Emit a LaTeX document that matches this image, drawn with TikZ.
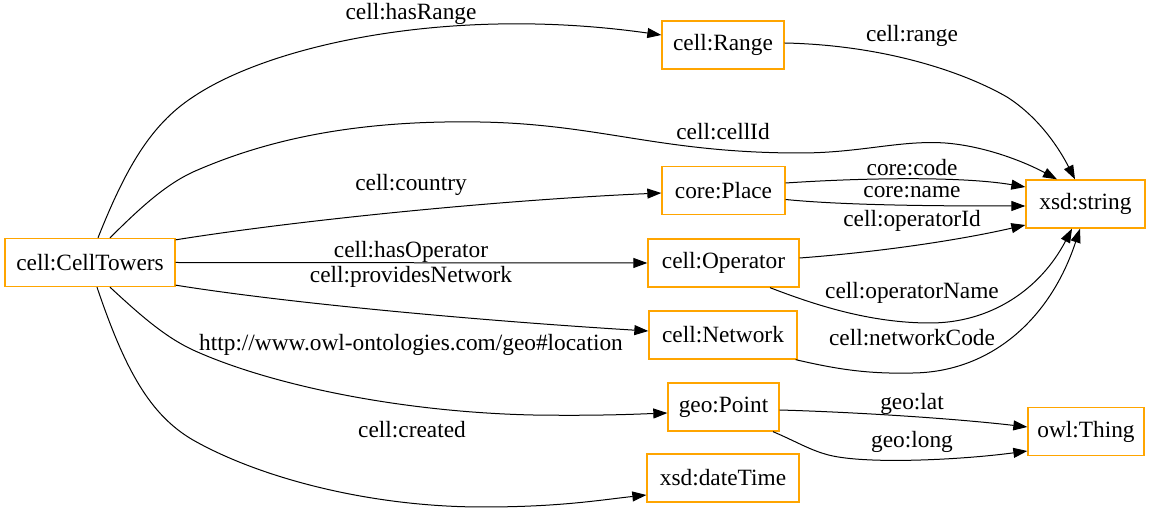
\documentclass[tikz,border=0pt]{standalone}
\usepackage{fontspec}
\setmainfont{Liberation Serif}
\usetikzlibrary{arrows.meta,calc}
\definecolor{classorange}{HTML}{FFA500}

\begin{document}
\begin{tikzpicture}[
  x=0.6pt, y=-0.6pt,
  font=\fontsize{14}{16}\selectfont,
  box/.style={draw=classorange, line width=0.8pt, inner xsep=2pt, inner ysep=0pt,
              minimum height=28.8pt},
  arr/.style={-{Triangle[length=8.4pt,width=6pt]}, line width=0.6pt},
  lbl/.style={inner sep=0pt}
]
\useasboundingbox (0,0) rectangle (1151,513);

% classes
\node[box, minimum width=102pt] (towers) at (90,262.5) {cell:CellTowers};
\node[box, minimum width=73.2pt] (range) at (723,45) {cell:Range};
\node[box, minimum width=73.8pt] (place) at (723.5,190.5) {core:Place};
\node[box, minimum width=90.6pt] (operator) at (723.5,263) {cell:Operator};
\node[box, minimum width=88.8pt] (network) at (723,335) {cell:Network};
\node[box, minimum width=66.6pt] (point) at (723.5,407) {geo:Point};
\node[box, minimum width=91.2pt] (datetime) at (723,478) {xsd:dateTime};
\node[box, minimum width=71.4pt] (string) at (1085.5,204) {xsd:string};
\node[box, minimum width=69.6pt] (thing) at (1086,431.5) {owl:Thing};

% properties of cell:CellTowers
\draw[arr] ($(towers.north)+(8,0)$) .. controls (125,170) and (150,125) .. (193,97)
  .. controls (270,45) and (450,5) .. ($(range.west)+(0,-10)$);
\draw[arr] ($(towers.north)+(20,0)$) .. controls (140,208) and (165,185) .. (193,172)
  .. controls (270,138) and (360,120) .. (480,122)
  .. controls (600,124) and (660,153) .. (800,153)
  .. controls (860,153) and (900,140) .. (945,143)
  .. controls (985,146) and (1025,162) .. ($(string.north)+(-28.5,0)$);
\draw[arr] ($(towers.north east)+(0,2)$) .. controls (300,220) and (500,200) .. ($(place.west)+(0,2.5)$);
\draw[arr] (towers.east) -- (operator.west);
\draw[arr] ($(towers.south east)+(0,-2)$) .. controls (300,305) and (500,322) .. ($(network.west)+(0,-4)$);
\draw[arr] ($(towers.south)+(20,0)$) .. controls (140,315) and (165,337) .. (193,350)
  .. controls (270,385) and (400,412) .. (533,415)
  .. controls (600,416) and (640,414) .. ($(point.west)+(0,6)$);
\draw[arr] ($(towers.south)+(7,0)$) .. controls (125,370) and (150,415) .. (193,440)
  .. controls (260,478) and (370,507) .. (483,507)
  .. controls (560,507) and (600,500) .. ($(datetime.west)+(0,17)$);

\node[lbl] (l-hasrange) at (411,14) {cell:hasRange};
\node[lbl] (l-cellid) at (723,132) {cell:cellId};
\node[lbl] (l-country) at (411,185) {cell:country};
\node[lbl] (l-hasop) at (411,252) {cell:hasOperator};
\node[lbl] (l-provides) at (411,277) {cell:providesNetwork};
\node[lbl] (l-location) at (411,345) {http://www.owl-ontologies.com/geo\#location};
\node[lbl] (l-created) at (412,430) {cell:created};

% data properties
\draw[arr] ($(range.east)+(0,-2)$) .. controls (880,45) and (960,70) .. (1007,97)
  .. controls (1040,118) and (1060,150) .. ($(string.north)+(-10.5,0)$);
\draw[arr] ($(place.east)+(0,-7.5)$) .. controls (860,178) and (960,176) .. ($(string.west)+(0,-17)$);
\draw[arr] ($(place.east)+(0,9)$) .. controls (850,206) and (960,206) .. ($(string.west)+(0,2)$);
\draw[arr] ($(operator.east)+(0,-5)$) .. controls (880,252) and (960,240) .. ($(string.west)+(0,21)$);
\draw[arr] ($(operator.south)+(46.5,0)$) .. controls (815,305) and (870,323) .. (930,323)
  .. controls (990,323) and (1040,290) .. ($(string.south)+(-13.5,0)$);
\draw[arr] ($(network.south east)+(-2,0)$) .. controls (840,370) and (870,374) .. (913,373)
  .. controls (990,372) and (1050,320) .. ($(string.south)+(-5.5,0)$);
\draw[arr] ($(point.east)+(0,3)$) .. controls (850,412) and (950,418) .. ($(thing.west)+(0,-4.5)$);
\draw[arr] ($(point.south)+(49.5,0)$) .. controls (795,441) and (808,449) .. (825,454)
  .. controls (860,465) and (960,460) .. ($(thing.west)+(0,19.5)$);

\node[lbl] (l-range) at (912,36) {cell:range};
\node[lbl] (l-code) at (912,168) {core:code};
\node[lbl] (l-name) at (912,192) {core:name};
\node[lbl] (l-opid) at (912,221) {cell:operatorId};
\node[lbl] (l-opname) at (912,293) {cell:operatorName};
\node[lbl] (l-netcode) at (912,338) {cell:networkCode};
\node[lbl] (l-lat) at (912,404) {geo:lat};
\node[lbl] (l-long) at (912,442) {geo:long};
\end{tikzpicture}
\end{document}
